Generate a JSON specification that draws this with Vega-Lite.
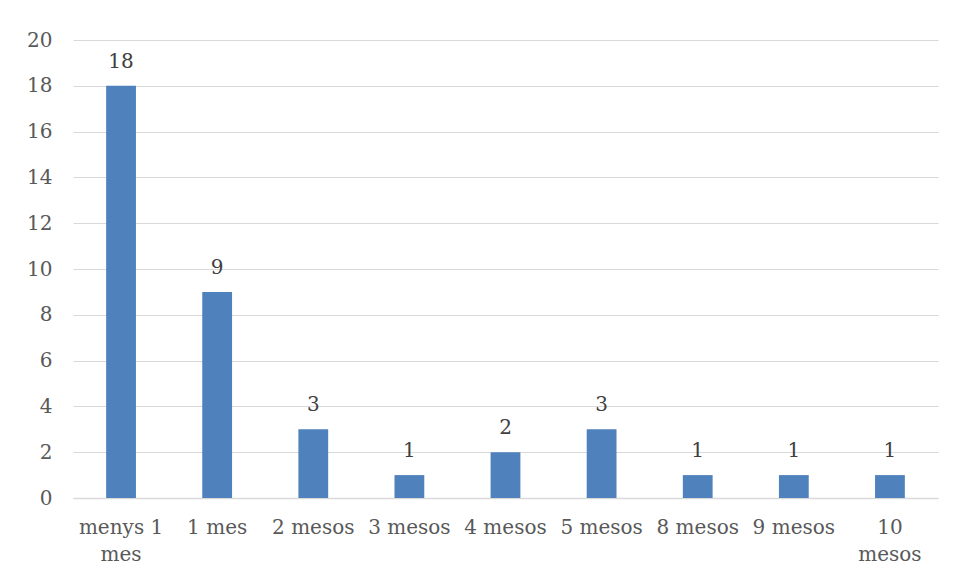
{
  "$schema": "https://vega.github.io/schema/vega-lite/v6.json",
  "width": 865,
  "height": 458,
  "autosize": {"type": "none"},
  "padding": {"left": 73, "top": 40, "right": 18, "bottom": 83},
  "background": "white",
  "config": {
    "view": {"stroke": null},
    "font": "DejaVu Serif",
    "axis": {"labelFont": "DejaVu Serif", "labelFontSize": 20, "labelColor": "#595959"}
  },
  "data": {
    "values": [
      {"cat": "menys 1 mes", "n": 18},
      {"cat": "1 mes", "n": 9},
      {"cat": "2 mesos", "n": 3},
      {"cat": "3 mesos", "n": 1},
      {"cat": "4 mesos", "n": 2},
      {"cat": "5 mesos", "n": 3},
      {"cat": "8 mesos", "n": 1},
      {"cat": "9 mesos", "n": 1},
      {"cat": "10 mesos", "n": 1}
    ]
  },
  "encoding": {
    "x": {
      "field": "cat", "type": "nominal", "sort": null,
      "scale": {"paddingInner": 0.69, "paddingOuter": 0.345},
      "axis": {
        "title": null, "labelAngle": 0, "ticks": false,
        "domainColor": "#D9D9D9", "domainWidth": 1.5,
        "labelPadding": 19, "labelLineHeight": 27,
        "labelExpr": "datum.value == 'menys 1 mes' ? ['menys 1', 'mes'] : datum.value == '10 mesos' ? ['10', 'mesos'] : datum.value"
      }
    },
    "y": {
      "field": "n", "type": "quantitative",
      "scale": {"domain": [0, 20]},
      "axis": {
        "title": null, "values": [0, 2, 4, 6, 8, 10, 12, 14, 16, 18, 20],
        "ticks": false, "domain": false, "gridColor": "#D9D9D9", "gridWidth": 1.2,
        "labelPadding": 21
      }
    }
  },
  "layer": [
    {"mark": {"type": "bar", "color": "#4F81BD"}},
    {
      "mark": {"type": "text", "baseline": "bottom", "dy": -14, "fontSize": 20, "color": "#404040", "font": "DejaVu Serif"},
      "encoding": {"text": {"field": "n", "type": "quantitative"}}
    }
  ]
}
